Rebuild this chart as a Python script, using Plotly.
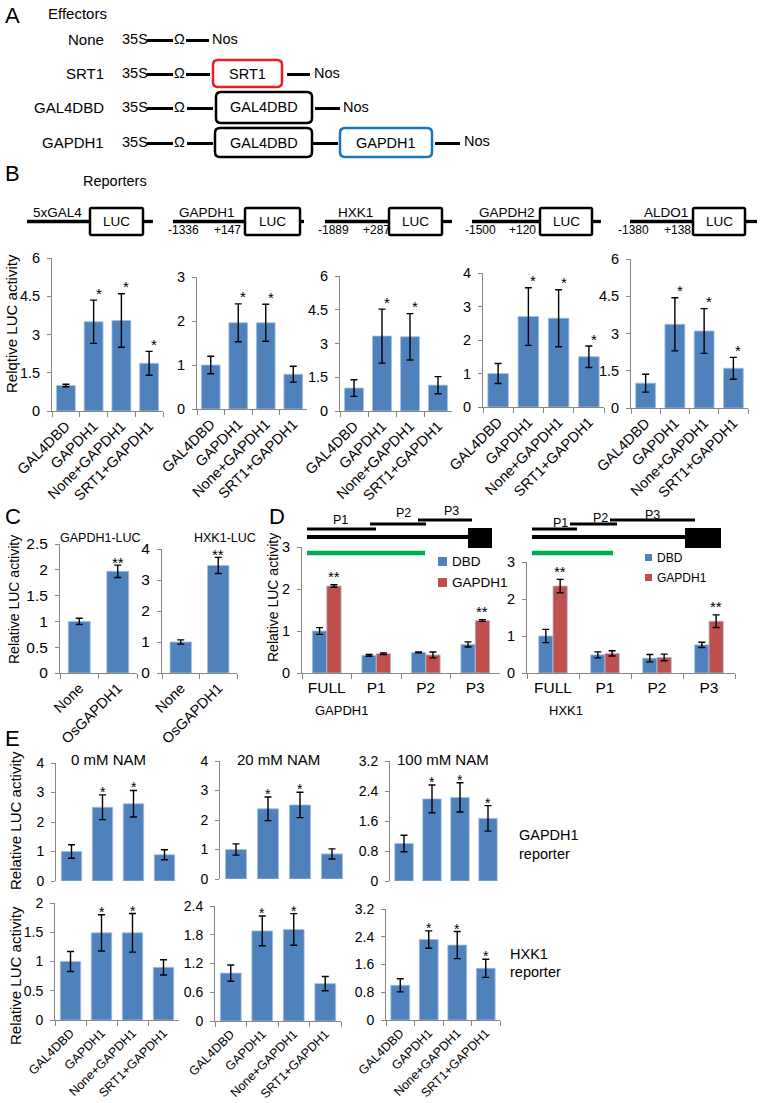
import plotly.graph_objects as go

W, H = 768, 1103
FONT = "Arial, Liberation Sans, sans-serif"
AX = "#868686"
BLUE = "#4f81bd"
RED = "#c0504d"

# ---------------- data ----------------
b_categories = ["GAL4DBD", "GAPDH1", "None+GAPDH1", "SRT1+GAPDH1"]
b_gal4_vals = [1.0, 3.5, 3.55, 1.87]
b_gal4_err = [0.05, 0.85, 1.05, 0.47]
b_gapdh1_vals = [1.0, 1.96, 1.96, 0.79]
b_gapdh1_err = [0.2, 0.43, 0.42, 0.18]
b_hxk1_vals = [1.02, 3.33, 3.3, 1.15]
b_hxk1_err = [0.37, 1.2, 1.03, 0.38]
b_gapdh2_vals = [1.0, 2.7, 2.65, 1.5]
b_gapdh2_err = [0.3, 0.86, 0.85, 0.32]
b_aldo1_vals = [1.0, 3.37, 3.1, 1.6]
b_aldo1_err = [0.36, 1.07, 0.9, 0.44]

c_categories = ["None", "OsGAPDH1"]
c_gapdh1_vals = [1.0, 1.97]
c_gapdh1_err = [0.06, 0.12]
c_hxk1_vals = [1.0, 3.47]
c_hxk1_err = [0.07, 0.26]

d_categories = ["FULL", "P1", "P2", "P3"]
d_gapdh1_dbd = [1.0, 0.42, 0.49, 0.68]
d_gapdh1_dbd_err = [0.08, 0.02, 0.01, 0.06]
d_gapdh1_gapdh = [2.07, 0.46, 0.43, 1.25]
d_gapdh1_gapdh_err = [0.03, 0.02, 0.07, 0.02]
d_hxk1_dbd = [1.0, 0.49, 0.4, 0.76]
d_hxk1_dbd_err = [0.18, 0.08, 0.1, 0.07]
d_hxk1_gapdh = [2.35, 0.53, 0.42, 1.4]
d_hxk1_gapdh_err = [0.18, 0.07, 0.09, 0.17]

e_categories = ["GAL4DBD", "GAPDH1", "None+GAPDH1", "SRT1+GAPDH1"]
e_gapdh1_0 = [1.0, 2.5, 2.62, 0.89]
e_gapdh1_0_err = [0.23, 0.42, 0.45, 0.17]
e_gapdh1_20 = [1.0, 2.38, 2.51, 0.85]
e_gapdh1_20_err = [0.19, 0.4, 0.43, 0.17]
e_gapdh1_100 = [1.0, 2.19, 2.23, 1.67]
e_gapdh1_100_err = [0.22, 0.37, 0.39, 0.34]
e_hxk1_0 = [1.0, 1.49, 1.49, 0.9]
e_hxk1_0_err = [0.17, 0.31, 0.33, 0.13]
e_hxk1_20 = [1.0, 1.88, 1.91, 0.78]
e_hxk1_20_err = [0.17, 0.31, 0.33, 0.15]
e_hxk1_100 = [1.0, 2.32, 2.16, 1.49]
e_hxk1_100_err = [0.19, 0.25, 0.39, 0.26]


def fx(p):
    return p / W


def fy(p):
    return 1 - p / H


fig = go.Figure()
shapes, annos, axes = [], [], {}


def txt(x, y, s, size=14, xa="center", angle=0, color="black"):
    annos.append(dict(xref="paper", yref="paper", x=fx(x), y=fy(y), text=s,
                      showarrow=False, xanchor=xa, yanchor="middle",
                      textangle=angle, font=dict(size=size, color=color, family=FONT)))


def hline(x0, x1, y, w=3, color="black"):
    shapes.append(dict(type="line", xref="paper", yref="paper", x0=fx(x0), x1=fx(x1),
                       y0=fy(y), y1=fy(y), line=dict(color=color, width=w)))


def rbox(x0, y0, x1, y1, color="black", r=5, w=2.5):
    def P(x, y):
        return f"{fx(x):.5f},{fy(y):.5f}"
    path = (f"M {P(x0 + r, y0)} L {P(x1 - r, y0)} Q {P(x1, y0)} {P(x1, y0 + r)} "
            f"L {P(x1, y1 - r)} Q {P(x1, y1)} {P(x1 - r, y1)} L {P(x0 + r, y1)} "
            f"Q {P(x0, y1)} {P(x0, y1 - r)} L {P(x0, y0 + r)} Q {P(x0, y0)} {P(x0 + r, y0)} Z")
    shapes.append(dict(type="path", xref="paper", yref="paper", path=path,
                       line=dict(color=color, width=w), fillcolor="white"))


def rect(x0, y0, x1, y1, color):
    shapes.append(dict(type="rect", xref="paper", yref="paper", x0=fx(x0), x1=fx(x1),
                       y0=fy(y1), y1=fy(y0), line=dict(width=0), fillcolor=color))


def make_axes(i, x0, x1, ytop, y0, ymax, dtick, xline=True, xlabels=True,
              angle=-45, xfont=13, yfont=13):
    axes[f"xaxis{i}"] = dict(domain=[fx(x0), fx(x1)], anchor=f"y{i}", type="category",
                             showline=xline, linecolor=AX, linewidth=1,
                             ticks="outside" if xline else "", tickson="boundaries",
                             ticklen=5, tickcolor=AX, tickangle=angle, automargin=False,
                             showticklabels=xlabels, showgrid=False, zeroline=False,
                             tickfont=dict(size=xfont, family=FONT, color="black"))
    axes[f"yaxis{i}"] = dict(domain=[fy(y0), fy(ytop)], anchor=f"x{i}", range=[0, ymax],
                             tick0=0, dtick=dtick, showline=True, linecolor=AX, linewidth=1,
                             ticks="outside", ticklen=4, tickcolor=AX, showgrid=False,
                             zeroline=False, ticklabelstandoff=4, automargin=False,
                             tickfont=dict(size=yfont, family=FONT, color="black"))


def bars(i, cats, vals, err, width, color=BLUE, offset=None):
    kw = dict(x=cats, y=vals, width=width, marker=dict(color=color, line=dict(color="#a9c0df", width=0.8)),
              error_y=dict(type="data", array=err, color="black", thickness=1.4, width=3.5),
              xaxis=f"x{i}", yaxis=f"y{i}", showlegend=False, hoverinfo="skip")
    if offset is not None:
        kw["offset"] = offset
    fig.add_trace(go.Bar(**kw))


def stars(i, cats, vals, err, idxs, s="*", size=15, xshift=0, yshift=6):
    for k in idxs:
        annos.append(dict(xref=f"x{i}", yref=f"y{i}", x=cats[k], y=vals[k] + err[k],
                          text=s, showarrow=False, xanchor="center", yanchor="middle",
                          xshift=xshift, yshift=yshift, font=dict(size=size, family=FONT, color="black")))


# ---------------- Panel A ----------------
txt(3, 15, "A", 22, "left")
txt(46, 14, "Effectors", 15, "left")
rows = [("None", 39), ("SRT1", 73), ("GAL4DBD", 107), ("GAPDH1", 142)]
for name, y in rows:
    txt(106, y, name, 15, "right")
    txt(120, y, "35S", 14.5, "left")
    hline(147, 173, y + 1.5)
    txt(179, y, "Ω", 14.5)
hline(186, 209, 40.5)
txt(210, 39, "Nos", 14.5, "left")
hline(186, 210, 74.5)
rbox(213, 60, 282, 87, color="#ee1c24")
txt(247.5, 73.5, "SRT1", 14.5)
hline(287, 310, 74.5)
txt(312, 73, "Nos", 14.5, "left")
hline(187, 213, 108.5)
rbox(216, 92, 312, 123)
txt(264, 107.5, "GAL4DBD", 14.5)
hline(315, 340, 108.5)
txt(341, 107, "Nos", 14.5, "left")
hline(187, 213, 143.5)
rbox(215, 128, 312, 157)
txt(263.5, 142.5, "GAL4DBD", 14.5)
hline(313, 338, 143.5)
rbox(340, 128, 432, 157, color="#1b75bc")
txt(386, 142.5, "GAPDH1", 14.5)
hline(435, 460, 143.5)
txt(462, 141, "Nos", 14.5, "left")

# ---------------- Panel B ----------------
txt(3, 173, "B", 22, "left")
txt(81, 181, "Reporters", 14.5, "left")
reporters = [
    (27, 90, 143, 153, "5xGAL4", 57, None, None),
    (173, 245, 300, 304, "GAPDH1", 207, ("-1336", 183), ("+147", 227)),
    (325, 389, 442, 452, "HXK1", 355, ("-1889", 333), ("+287", 376)),
    (472, 540, 592, 601, "GAPDH2", 507, ("-1500", 480), ("+120", 522)),
    (630, 693, 745, 757, "ALDO1", 666, ("-1380", 633), ("+138", 677)),
]
for l0, b0, b1, l1, name, nx, n1, n2 in reporters:
    hline(l0, b0, 221.5, 3.3)
    hline(b1, l1, 221.5, 3.3)
    rbox(b0, 208, b1, 235, r=1.5, w=2.5)
    txt((b0 + b1) / 2, 221.5, "LUC", 13.5)
    txt(nx, 212, name, 13.5)
    if n1:
        txt(n1[1], 229.5, n1[0], 12)
        txt(n2[1], 229.5, n2[0], 12)

b_sets = [
    (1, 52, 163, 258, 411, 6, 1.5, b_gal4_vals, b_gal4_err, [1, 2, 3]),
    (2, 197, 307, 277, 409, 3, 1, b_gapdh1_vals, b_gapdh1_err, [1, 2]),
    (3, 340, 452, 276, 411, 6, 1.5, b_hxk1_vals, b_hxk1_err, [1, 2]),
    (4, 483, 604, 273, 407, 4, 1, b_gapdh2_vals, b_gapdh2_err, [1, 2, 3]),
    (5, 631, 748, 259, 408, 6, 1.5, b_aldo1_vals, b_aldo1_err, [1, 2, 3]),
]
for i, x0, x1, yt, y0, ym, dt, v, e, st in b_sets:
    make_axes(i, x0, x1, yt, y0, ym, dt, xfont=14.5, yfont=14.5)
    bars(i, b_categories, v, e, 0.68)
    stars(i, b_categories, v, e, st, size=15, xshift=5, yshift=7)
txt(11, 324, "Relqtive LUC activity", 15, angle=-90)

# ---------------- Panel C ----------------
txt(3, 517, "C", 22, "left")
txt(100, 538, "GAPDH1-LUC", 12.5)
txt(225, 538, "HXK1-LUC", 12.5)
make_axes(6, 60, 137, 544, 673, 2.5, 0.5, xfont=14.5, yfont=15.5)
bars(6, c_categories, c_gapdh1_vals, c_gapdh1_err, 0.57)
stars(6, c_categories, c_gapdh1_vals, c_gapdh1_err, [1], s="**", size=15, yshift=3)
make_axes(7, 162, 237, 549, 673, 4, 1, xfont=14.5, yfont=15.5)
bars(7, c_categories, c_hxk1_vals, c_hxk1_err, 0.57)
stars(7, c_categories, c_hxk1_vals, c_hxk1_err, [1], s="**", size=15, yshift=3)
txt(14, 600, "Relative LUC activity", 14, angle=-90)

# ---------------- Panel D ----------------
txt(267, 517, "D", 22, "left")
txt(273, 598, "Relative LUC activity", 14, angle=-90)
make_axes(8, 302, 500, 547, 673, 3, 1, angle=0, xfont=15.5, yfont=14.5)
bars(8, d_categories, d_gapdh1_dbd, d_gapdh1_dbd_err, 0.29, BLUE, -0.29)
bars(8, d_categories, d_gapdh1_gapdh, d_gapdh1_gapdh_err, 0.29, RED, 0.0)
for k in (0, 3):
    annos.append(dict(xref="x8", yref="y8", x=d_categories[k], y=d_gapdh1_gapdh[k] + d_gapdh1_gapdh_err[k],
                      text="**", showarrow=False, xshift=7, yshift=8, font=dict(size=15, family=FONT)))
make_axes(9, 527, 735, 562, 673, 3, 1, angle=0, xfont=15.5, yfont=14.5)
bars(9, d_categories, d_hxk1_dbd, d_hxk1_dbd_err, 0.275, BLUE, -0.275)
bars(9, d_categories, d_hxk1_gapdh, d_hxk1_gapdh_err, 0.275, RED, 0.0)
for k in (0, 3):
    annos.append(dict(xref="x9", yref="y9", x=d_categories[k], y=d_hxk1_gapdh[k] + d_hxk1_gapdh_err[k],
                      text="**", showarrow=False, xshift=7, yshift=8, font=dict(size=15, family=FONT)))
# gene diagrams
hline(307, 470, 537, 4)
rect(468, 528, 492, 548, "black")
hline(307, 376, 529, 3)
hline(370, 426, 524, 3)
hline(418, 472, 520, 3)
txt(340, 520, "P1", 12.5)
txt(403, 513, "P2", 12.5)
txt(451, 511, "P3", 12.5)
hline(307, 425, 553, 4.5, "#00b050")
hline(532, 688, 537, 4)
rect(685, 528, 721, 548, "black")
hline(532, 577, 529, 3)
hline(570, 617, 524, 3)
hline(610, 695, 520, 3)
txt(560, 523, "P1", 12.5)
txt(600, 518, "P2", 12.5)
txt(652, 515, "P3", 12.5)
hline(532, 613, 553, 4.5, "#00b050")
# legends
rect(438, 557, 447, 566, BLUE)
txt(450, 561, "DBD", 13.5, "left")
rect(438, 578, 447, 587, RED)
txt(450, 582, "GAPDH1", 13.5, "left")
rect(645, 554, 652, 561, BLUE)
txt(655, 558, "DBD", 12, "left")
rect(645, 574, 652, 581, RED)
txt(655, 578, "GAPDH1", 12, "left")
txt(313, 710, "GAPDH1", 13, "left")
txt(547, 710, "HXK1", 13, "left")

# ---------------- Panel E ----------------
txt(3, 738, "E", 22, "left")
txt(108, 759, "0 mM NAM", 15)
txt(278, 759, "20 mM NAM", 15)
txt(443, 759, "100 mM NAM", 15)
txt(517, 835, "GAPDH1", 14.5, "left")
txt(517, 854, "reporter", 14.5, "left")
txt(508, 954, "HXK1", 14.5, "left")
txt(508, 972, "reporter", 14.5, "left")
txt(15, 821, "Relative LUC activity", 15, angle=-90)
txt(15, 976, "Relative LUC activity", 15, angle=-90)

e_sets = [
    (10, 56, 180, 763, 881, 4, 1, e_gapdh1_0, e_gapdh1_0_err, [1, 2], False),
    (11, 220, 348, 761, 879, 4, 1, e_gapdh1_20, e_gapdh1_20_err, [1, 2], False),
    (12, 390, 502, 761, 881, 3.2, 0.8, e_gapdh1_100, e_gapdh1_100_err, [1, 2, 3], False),
    (13, 55, 179, 903, 1020, 2, 0.5, e_hxk1_0, e_hxk1_0_err, [1, 2], True),
    (14, 215, 341, 906, 1021, 2.4, 0.6, e_hxk1_20, e_hxk1_20_err, [1, 2], True),
    (15, 386, 500, 909, 1020, 3.2, 0.8, e_hxk1_100, e_hxk1_100_err, [1, 2, 3], True),
]
for i, x0, x1, yt, y0, ym, dt, v, e, st, bottom in e_sets:
    make_axes(i, x0, x1, yt, y0, ym, dt, xline=bottom, xlabels=bottom, xfont=12.5, yfont=14)
    bars(i, e_categories, v, e, 0.66)
    stars(i, e_categories, v, e, st, size=14, yshift=3)

fig.update_layout(width=W, height=H, autosize=False, margin=dict(l=0, r=0, t=0, b=0, autoexpand=False),
                  paper_bgcolor="white", plot_bgcolor="white", barmode="overlay",
                  font=dict(family=FONT, color="black"), shapes=shapes, annotations=annos,
                  showlegend=False, **axes)
fig.write_html("out.html", config={"displayModeBar": False},
               post_script="document.body.style.margin='0';document.body.style.overflow='hidden';")
